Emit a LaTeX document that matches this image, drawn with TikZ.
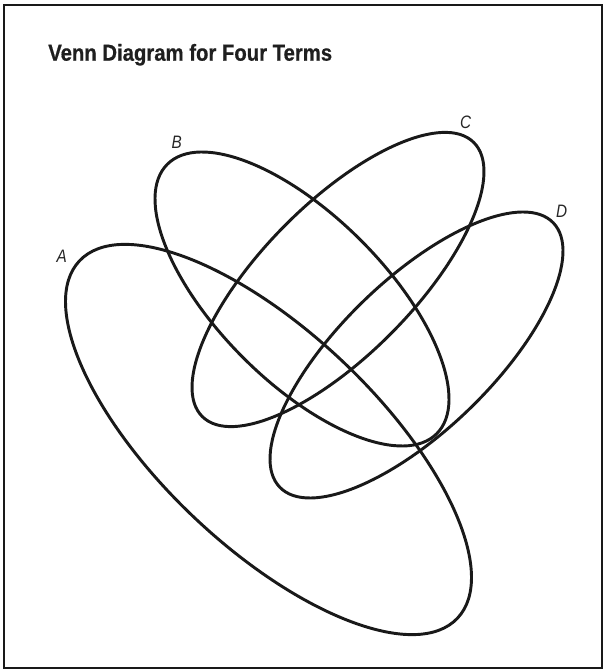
\documentclass[tikz,border=0pt]{standalone}
\usepackage{fontspec}
\setmainfont{Liberation Sans}
\newfontfamily\titlefont[FakeStretch=0.88,FakeBold=0.6]{Liberation Sans}
\newfontfamily\labelfont[FakeStretch=0.85]{Liberation Sans}
\begin{document}
\begin{tikzpicture}[x=0.75pt,y=0.75pt,
  venn/.style={draw=black!90, line width=2.2pt},
  setlabel/.style={inner sep=0pt, font=\labelfont\itshape\fontsize{13.5}{14}\selectfont, text=black!85},
  frame/.style={draw=black!90, line width=1.9pt}]
\useasboundingbox (0,0) rectangle (606,671);
\draw[frame] (4,3) rectangle (602,666);
\node[anchor=base west, inner sep=0pt, font=\titlefont\bfseries\fontsize{17.3}{19}\selectfont, text=black!88] (title) at (48,610.3) {Venn Diagram for Four Terms};
% ellipses
\draw[venn, rotate around={-43.4:(268.5,231.5)}] (268.5,231.5) ellipse [x radius=260.1, y radius=107.7];
\draw[venn, rotate around={-45:(302,372)}] (302,372) ellipse [x radius=190.5, y radius=83.1];
\draw[venn, rotate around={45.3:(338,391.5)}] (338,391.5) ellipse [x radius=192.9, y radius=75.7];
\draw[venn, rotate around={44.05:(416.5,316)}] (416.5,316) ellipse [x radius=190.2, y radius=75.6];
% labels
\node[setlabel] (la) at (61.7,415) {A};
\node[setlabel] (lb) at (176.7,528.3) {B};
\node[setlabel] (lc) at (465.7,548.3) {C};
\node[setlabel] (ld) at (561.7,459.3) {D};
\end{tikzpicture}
\end{document}
